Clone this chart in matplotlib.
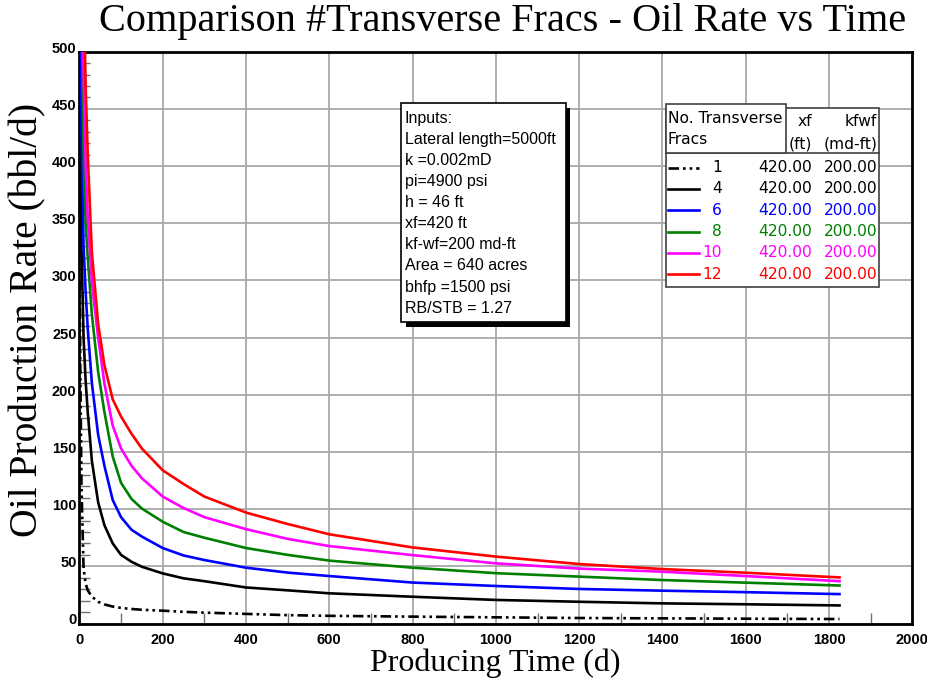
import matplotlib
matplotlib.use("Agg")
import matplotlib.pyplot as plt
import matplotlib.transforms as mtransforms
from matplotlib.lines import Line2D
from matplotlib.patches import Rectangle
from matplotlib.ticker import MultipleLocator

# producing time (days) shared by all cases
days = [1, 2, 5, 10, 15, 20, 30, 45, 60, 80, 100, 125, 150, 200, 250, 300,
        400, 500, 600, 800, 1000, 1200, 1400, 1600, 1825]

# oil rate (bbl/d) for each number of transverse fracs
rate_1 = [300, 230, 120, 48, 35, 29, 23.5, 19, 16.7, 14.8, 13.6, 12.7, 12, 11.2, 10.2, 9.5,
          8.4, 7.3, 6.7, 6, 5.4, 4.8, 4.5, 4.2, 3.9]
rate_4 = [650, 500, 330, 250, 212, 185, 142, 106, 86, 70, 60, 54, 49.6, 43.8, 39.5, 37,
          31.5, 29, 26.4, 23.4, 20.6, 19, 17.6, 16.8, 15.8]
rate_6 = [900, 650, 430, 330, 290, 258, 210, 165, 138, 108, 93, 82, 76, 66, 59.5, 55.5,
          48.8, 44.5, 41.5, 35.8, 32.8, 30.2, 28.7, 27.4, 25.7]
rate_8 = [1100, 800, 540, 410, 350, 320, 270, 220, 185, 146, 123, 109, 100.5, 89, 80, 75,
          66, 60, 55, 48.8, 44, 41, 38, 35.7, 33.2]
rate_10 = [1300, 950, 640, 480, 400, 355, 298, 250, 210, 173, 153, 138, 127, 111, 101, 93,
           82.5, 74, 67.7, 59.8, 52.6, 48, 45.3, 41.5, 37]
rate_12 = [1500, 1100, 750, 560, 470, 410, 324, 262, 226, 196, 181, 166, 153, 134, 122, 111,
           97, 87, 78, 66.5, 58.5, 52, 47.6, 44.4, 40.3]

n_fracs = ["1", "4", "6", "8", "10", "12"]
xf_ft = [420.0] * 6
kfwf = [200.0] * 6
series = [rate_1, rate_4, rate_6, rate_8, rate_10, rate_12]
colors = ["black", "black", "#0000ff", "#008000", "#ff00ff", "#ff0000"]
dashdotdot = (0, (4, 1.5, 1, 1.5, 1, 1.5))
styles = [dashdotdot, "-", "-", "-", "-", "-"]

inputs = ["Inputs:", "Lateral length=5000ft", "k =0.002mD", "pi=4900 psi", "h = 46 ft",
          "xf=420 ft", "kf-wf=200 md-ft", "Area = 640 acres", "bhfp =1500 psi",
          "RB/STB = 1.27"]

W, H = 928, 689
fig = plt.figure(figsize=(W / 100, H / 100), dpi=100)
fig.patch.set_facecolor("white")


def fx(px):
    return px / W


def fy(py):
    return 1 - py / H


ax = fig.add_axes([fx(79.4), fy(623.5), fx(912.4) - fx(79.4), fy(51.7) - fy(623.5)])

for y, st, c in zip(series, styles, colors):
    ax.plot(days, y, color=c, linestyle=st, lw=1.9, zorder=3)

ax.set_xlim(0, 2000)
ax.set_ylim(0, 500)
ax.xaxis.set_major_locator(MultipleLocator(200))
ax.xaxis.set_minor_locator(MultipleLocator(100))
ax.yaxis.set_major_locator(MultipleLocator(50))
ax.yaxis.set_minor_locator(MultipleLocator(10))
ax.grid(True, which="major", color="#a8a8a8", lw=1.3, zorder=0)
ax.tick_params(which="both", direction="in", top=False, right=False)
ax.tick_params(which="major", length=0, pad=7)
ax.tick_params(which="minor", length=8, width=1, color="#707070")
ax.tick_params(axis="y", which="major", pad=2)
for s in ax.spines.values():
    s.set_linewidth(2)
    s.set_color("black")

tick_font = dict(family=["Liberation Sans Narrow", "Liberation Sans"], weight="bold", size=10.5)
for lab in ax.get_xticklabels() + ax.get_yticklabels():
    lab.set_fontproperties(matplotlib.font_manager.FontProperties(**tick_font))
shift = mtransforms.ScaledTranslation(0, 0.045, fig.dpi_scale_trans)
for lab in ax.get_yticklabels():
    lab.set_transform(lab.get_transform() + shift)

serif = ["Liberation Serif", "DejaVu Serif"]
fig.text(fx(503), fy(22), "Comparison #Transverse Fracs - Oil Rate vs Time",
         family=serif, size=29, ha="center", va="center")
fig.text(fx(495), fy(663), "Producing Time (d)", family=serif, size=23,
         ha="center", va="center")
fig.text(fx(28), fy(320), "Oil Production Rate (bbl/d)", family=serif, size=28.5,
         ha="center", va="center", rotation=90)

# inputs box with drop shadow
fig.patches.append(Rectangle((fx(406), fy(327)), fx(570) - fx(406), fy(108) - fy(327),
                             transform=fig.transFigure, facecolor="black",
                             edgecolor="none", zorder=5))
fig.patches.append(Rectangle((fx(401), fy(322.3)), fx(565.7) - fx(401), fy(103.3) - fy(322.3),
                             transform=fig.transFigure, facecolor="white",
                             edgecolor="black", lw=1.2, zorder=6))
for i, line in enumerate(inputs):
    fig.text(fx(405), fy(118.3 + i * 21.1), line, family=["Liberation Sans"], size=11.5,
             ha="left", va="center", zorder=7)

# legend table
fig.patches.append(Rectangle((fx(666), fy(286.7)), fx(879.3) - fx(666), fy(108.3) - fy(286.7),
                             transform=fig.transFigure, facecolor="white",
                             edgecolor="#404040", lw=1.2, zorder=5))
fig.patches.append(Rectangle((fx(666), fy(153.3)), fx(786) - fx(666), fy(104.3) - fy(153.3),
                             transform=fig.transFigure, facecolor="white",
                             edgecolor="#404040", lw=1.2, zorder=6))
fig.lines.append(Line2D([fx(666), fx(879.3)], [fy(153.3), fy(153.3)],
                        transform=fig.transFigure, color="#404040", lw=1.2, zorder=6))

leg_font = dict(family=["DejaVu Sans"], size=11.2, zorder=7)
fig.text(fx(668), fy(118.3), "No. Transverse", ha="left", va="center", **leg_font)
fig.text(fx(668), fy(139.3), "Fracs", ha="left", va="center", **leg_font)
fig.text(fx(812), fy(121.7), "xf", ha="right", va="center", **leg_font)
fig.text(fx(812), fy(144.3), "(ft)", ha="right", va="center", **leg_font)
fig.text(fx(877.5), fy(121.7), "kfwf", ha="right", va="center", **leg_font)
fig.text(fx(877.5), fy(144.3), "(md-ft)", ha="right", va="center", **leg_font)

for i in range(len(n_fracs)):
    yy = 167.7 + i * 21.3
    fig.lines.append(Line2D([fx(668.3), fx(699.3)], [fy(yy), fy(yy)], transform=fig.transFigure,
                            color=colors[i], linestyle=styles[i], lw=1.9, zorder=7))
    fig.text(fx(722), fy(yy), n_fracs[i], ha="right", va="center",
             color=colors[i], **leg_font)
    fig.text(fx(812), fy(yy), f"{xf_ft[i]:.2f}", ha="right", va="center",
             color=colors[i], **leg_font)
    fig.text(fx(877.5), fy(yy), f"{kfwf[i]:.2f}", ha="right", va="center",
             color=colors[i], **leg_font)

fig.savefig("out.png", dpi=100)
